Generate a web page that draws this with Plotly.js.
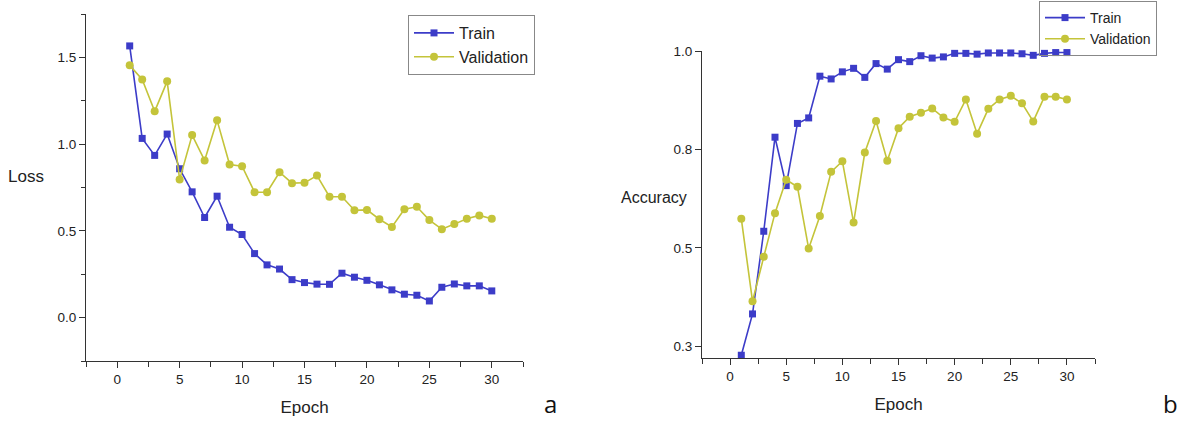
<!DOCTYPE html>
<html>
<head>
<meta charset="utf-8">
<script src="https://cdn.plot.ly/plotly-3.0.1.min.js"></script>
<style>html,body{margin:0;padding:0;background:#fff;}#chart{width:1181px;height:422px;}</style>
</head>
<body>
<div id="chart"></div>
<script>
const epochs = [1,2,3,4,5,6,7,8,9,10,11,12,13,14,15,16,17,18,19,20,21,22,23,24,25,26,27,28,29,30];

const lossTrain = [1.566,1.033,0.935,1.058,0.858,0.725,0.577,0.700,0.521,0.479,0.369,0.304,0.280,0.219,0.202,0.193,0.192,0.256,0.233,0.215,0.189,0.160,0.135,0.129,0.096,0.175,0.194,0.183,0.183,0.154];
const lossVal = [1.454,1.373,1.189,1.362,0.796,1.052,0.906,1.137,0.883,0.873,0.723,0.723,0.838,0.775,0.777,0.819,0.697,0.697,0.619,0.621,0.567,0.523,0.625,0.639,0.562,0.510,0.539,0.570,0.589,0.570];

const accTrain = [0.227,0.332,0.542,0.781,0.658,0.816,0.830,0.936,0.929,0.947,0.956,0.933,0.968,0.954,0.978,0.973,0.988,0.982,0.985,0.994,0.994,0.992,0.995,0.995,0.995,0.993,0.989,0.994,0.996,0.996];
const accVal = [0.574,0.364,0.477,0.588,0.673,0.655,0.498,0.581,0.693,0.720,0.564,0.742,0.822,0.721,0.804,0.833,0.843,0.854,0.831,0.820,0.877,0.790,0.853,0.877,0.886,0.867,0.821,0.884,0.884,0.877];

const accTickVals = [0.25,0.5,0.75,1.0];
const accTickText = ["0.3","0.5","0.8","1.0"];

const blue = 'rgb(60,60,200)';
const olive = 'rgb(196,196,58)';
const ff = 'Liberation Sans, Arial, sans-serif';
const tickFont = {family:ff, size:13.5, color:'#222'};
const labelFont = {family:ff, size:17, color:'#222'};

function tr(y, name, color, symbol, size, xa, ya, leg){
  return {x: epochs, y: y, name: name, type:'scatter', mode:'lines+markers',
    line:{color:color, width:1.6}, marker:{color:color, symbol:symbol, size:size},
    xaxis:xa, yaxis:ya, legend:leg, cliponaxis:false};
}

const data = [
  tr(lossTrain,'Train',blue,'square',7,'x','y','legend'),
  tr(lossVal,'Validation',olive,'circle',8,'x','y','legend'),
  tr(accTrain,'Train',blue,'square',7,'x2','y2','legend2'),
  tr(accVal,'Validation',olive,'circle',8,'x2','y2','legend2')
];

const axBase = {showline:true, linecolor:'#333', linewidth:1, showgrid:false, zeroline:false,
  ticks:'outside', ticklen:6, tickcolor:'#333', tickfont:tickFont, mirror:false};

const layout = {
  width:1181, height:422, margin:{l:0,r:0,t:0,b:0},
  paper_bgcolor:'#fff', plot_bgcolor:'#fff', showlegend:true,
  xaxis: Object.assign({}, axBase, {domain:[86/1181, 523/1181], range:[-2.5,32.5], dtick:5, tick0:0,
    anchor:'y', minor:{dtick:2.5, tick0:0, ticks:'outside', ticklen:5, tickcolor:'#333'},
    title:{text:'Epoch', font:labelFont, standoff:14}}),
  yaxis: Object.assign({}, axBase, {domain:[1-361/422, 1-14/422], range:[-0.25,1.75], dtick:0.5, tick0:0,
    tickformat:'.1f', anchor:'x', minor:{dtick:0.25, tick0:0, ticks:'outside', ticklen:4, tickcolor:'#333'}}),
  xaxis2: Object.assign({}, axBase, {domain:[702/1181, 1095/1181], range:[-2.5,32.5], dtick:5, tick0:0,
    anchor:'y2', minor:{dtick:2.5, tick0:0, ticks:'outside', ticklen:5, tickcolor:'#333'},
    title:{text:'Epoch', font:labelFont, standoff:14}}),
  yaxis2: Object.assign({}, axBase, {domain:[1-358/422, 1-51/422], range:[0.22,1.0],
    tickvals:accTickVals, ticktext:accTickText, anchor:'x2'}),
  legend: {x:408/1181, y:1-15/422, xanchor:'left', yanchor:'top', bgcolor:'#fff',
    bordercolor:'#888', borderwidth:1, font:{family:ff, size:16, color:'#222'}, tracegroupgap:0, itemwidth:40},
  legend2: {x:1039/1181, y:1-1/422, xanchor:'left', yanchor:'top', bgcolor:'rgba(255,255,255,0)',
    bordercolor:'#888', borderwidth:1, font:{family:ff, size:14, color:'#222'}, tracegroupgap:0, itemwidth:40},
  annotations: [
    {text:'Loss', x:26/1181, y:1-176/422, xref:'paper', yref:'paper', showarrow:false, xanchor:'center', yanchor:'middle', font:labelFont},
    {text:'Accuracy', x:654/1181, y:1-197/422, xref:'paper', yref:'paper', showarrow:false, xanchor:'center', yanchor:'middle', font:{family:ff, size:16, color:'#222'}},
    {text:'a', x:550/1181, y:0, xref:'paper', yref:'paper', showarrow:false, xanchor:'center', yanchor:'bottom', font:{family:'Open Sans, DejaVu Sans, sans-serif', size:24, color:'#111'}},
    {text:'b', x:1170/1181, y:0, xref:'paper', yref:'paper', showarrow:false, xanchor:'center', yanchor:'bottom', font:{family:'Open Sans, DejaVu Sans, sans-serif', size:24, color:'#111'}}
  ]
};

Plotly.newPlot('chart', data, layout, {displayModeBar:false, staticPlot:true});
</script>
</body>
</html>
